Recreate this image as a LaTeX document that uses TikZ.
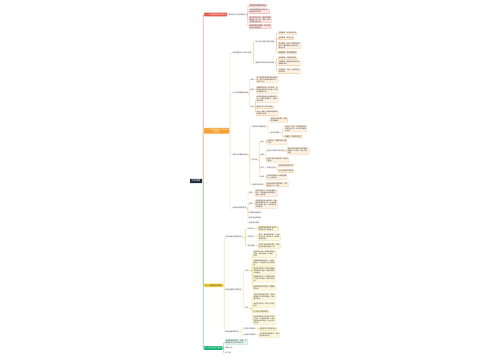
\documentclass[tikz,border=0pt]{standalone}
\usepackage{fontspec}
\setmainfont{Noto Sans CJK SC}
\definecolor{rootc}{HTML}{1F2A37}
\definecolor{textc}{HTML}{3A3A3A}
\definecolor{redc}{HTML}{E5574B}
\definecolor{redl}{HTML}{F2A79F}
\definecolor{redf}{HTML}{FDE6E3}
\definecolor{orc}{HTML}{F5A030}
\definecolor{orl}{HTML}{F2C896}
\definecolor{orf}{HTML}{FEF2E4}
\definecolor{yec}{HTML}{F3D23C}
\definecolor{yel}{HTML}{E8D57A}
\definecolor{yef}{HTML}{FDF8DF}
\definecolor{grc}{HTML}{1FB47A}
\definecolor{grl}{HTML}{86D3B2}
\definecolor{grf}{HTML}{E2F6ED}
\tikzset{
  rootnode/.style={fill=rootc, text=white, font=\fontsize{2.2}{2.6}\selectfont, minimum width=12pt, minimum height=4.4pt, inner sep=0.6pt, rounded corners=0.4pt},
  topic/.style={anchor=west, inner sep=0.9pt, font=\fontsize{1.9}{2.3}\selectfont, rounded corners=0.4pt, align=center},
  txt/.style={anchor=west, inner sep=0.5pt, font=\fontsize{1.7}{2}\selectfont, text=textc, align=left},
  leaf/.style={anchor=west, draw, line width=0.3pt, inner sep=0.6pt, font=\fontsize{1.6}{1.95}\selectfont, text=textc, align=left, rounded corners=0.4pt},
  leafR/.style={leaf, fill=redf, draw=redl},
  leafO/.style={leaf, fill=orf, draw=orl},
  leafY/.style={leaf, fill=yef, draw=yel},
  leafG/.style={leaf, fill=grf, draw=grl},
  link/.style={line width=0.35pt, rounded corners=1pt},
  lR/.style={link, draw=redl},
  lO/.style={link, draw=orl},
  lY/.style={link, draw=yel},
  lG/.style={link, draw=grl},
  trunk/.style={line width=0.6pt, rounded corners=1pt},
}
\newcommand\mmlink[4]{\draw[#1] (#2.east) -- ++(#4,0) |- (#3.west);}
\begin{document}
\begin{tikzpicture}[x=1pt,y=-1pt]
\fill[white] (0,0) rectangle (500,360);
\useasboundingbox (0,0) rectangle (500,360);

% root
\node[rootnode] (root) at (196,181) {项目管理};

% ---------- red branch
\node[topic, fill=redc, text=white] (r0) at (204,14.5) {一、项目管理的基本概念};
\node[txt] (r1) at (228,14.5) {项目的定义及主要特征};
\node[leafR] (r2) at (249,5.7) {项目具有明确的临时性};
\node[leafR] (r3) at (249,11.3) {项目有明确的起点和终点，\\资源和时间有限};
\node[leafR] (r4) at (249,19.5) {每个项目的产品、服务或成果\\都是独一无二的，具有一定的\\不确定性和风险};
\node[leafR] (r5) at (249,26.5) {项目需要渐进明细，逐步完善\\项目计划和目标};

% ---------- orange branch
\node[topic, fill=orc, text=white] (o0) at (204,130.7) {二、项目管理的知识领域和\\过程组};

\node[txt] (oa) at (232,53.3) {项目管理的十大知识领域};
\node[txt] (oa1) at (255,41.7) {核心知识领域与重点内容};
\node[leafO] (oa11) at (278,33.3) {范围管理：界定项目边界};
\node[leafO] (oa12) at (278,38.3) {进度管理：制定计划};
\node[leafO] (oa13) at (278,45.5) {成本管理：估算、预算和控制\\成本，确保项目在批准的预\\算内完成};
\node[leafO] (oa14) at (278,52.7) {质量管理：满足质量要求};
\node[txt] (oa2) at (255,63.3) {辅助知识领域与相关内容};
\node[leafO] (oa21) at (278,58.3) {资源管理：组建项目团队};
\node[leafO] (oa22) at (278,63.3) {沟通管理：确保项目信息及时\\准确地传递};
\node[leafO] (oa23) at (278,71.3) {风险管理：识别、分析和应对\\项目风险};

\node[txt] (ob) at (232,93.3) {五大项目管理过程组};
\node[txt] (ob1) at (250,79.7) {启动};
\node[leafO] (ob1a) at (256,79.7) {定义新项目或现有项目的新阶\\段，授权开始该项目或阶段，\\识别干系人};
\node[txt] (ob2) at (250,90) {规划};
\node[leafO] (ob2a) at (256,90) {明确项目范围，优化目标，为\\实现目标制定行动方案，形成\\项目管理计划};
\node[txt] (ob3) at (250,106.7) {执行};
\node[leafO] (ob3a) at (256,99.2) {完成项目管理计划中确定的工\\作，以满足项目要求，协调人\\员和资源};
\node[leafO] (ob3b) at (256,107.3) {管理干系人的参与程度};
\node[leafO] (ob3c) at (256,113.3) {监控：跟踪、审查和调整项目\\的进展与绩效};

\node[txt] (oc) at (232,155) {项目生命周期与组织};
\node[txt] (oc1) at (251.5,126.7) {项目生命周期类型};
\node[leafO] (oc1a) at (270,120) {预测型生命周期：范围\\在早期确定};
\node[txt] (oc1b) at (270,132.7) {适应型周期};
\node[leafO] (oc1b1) at (284.5,128.8) {迭代型：通过一系列重复的循\\环来开发产品，每次迭代都增\\加功能};
\node[leafO] (oc1b2) at (284.5,136.7) {敏捷型：快速响应变化};
\node[txt] (oc2) at (251.5,160) {各阶段};
\node[txt] (oc2a) at (260,142) {启动};
\node[leafO] (oc2a1) at (266.5,142) {开始项目，明确目标和主要\\干系人};
\node[txt] (oc2b) at (260,155) {组织};
\node[txt] (oc2b1) at (266.5,151) {组织与准备工作的内容};
\node[leafO] (oc2b11) at (287,150.8) {做好项目启动前的各项准备，\\明确分工与职责，建立沟通\\机制};
\node[leafO] (oc2b2) at (266.5,160) {制定计划并分配资源，建立项\\目团队};
\node[txt] (oc2c) at (260,168.3) {执行};
\node[txt] (oc2c1) at (266.5,168.3) {实施与监控};
\node[leafO] (oc2c11) at (278,165.7) {完成项目的全部工作};
\node[leafO] (oc2c12) at (278,171) {交付项目的阶段成果};
\node[txt] (oc2d) at (260,177.2) {结束};
\node[leafO] (oc2d1) at (266.5,177.2) {移交项目成果，总结经验教\\训，关闭项目};
\node[txt] (oc3) at (251.5,184.5) {项目阶段的关口};
\node[leafO] (oc31) at (266,184.5) {在阶段结束时审查绩效，决定\\是否进入下一阶段};

\node[txt] (od) at (232,208.3) {项目组织结构类型};
\node[txt] (od1) at (248.5,193.3) {职能};
\node[leafO] (od1a) at (255,193.3) {职能型组织中，项目经理权力\\较小，资源由职能经理控制，\\适合小型项目};
\node[txt] (od2) at (248.5,204.2) {矩阵};
\node[leafO] (od2a) at (255,204.2) {矩阵型组织分为弱矩阵、平衡\\矩阵和强矩阵三种，项目经理\\的权力随之增大，资源由双方\\共同管理};
\node[txt] (od3) at (248.5,213.3) {项目型组织结构};
\node[txt] (od4) at (248.5,218.3) {复合型组织结构};
\node[txt] (od5) at (248.5,223.3) {虚拟组织结构};

% ---------- yellow branch
\node[topic, fill=yec, text=textc] (y0) at (204,285.3) {三、项目经理的角色};
\node[txt] (ya) at (225,237.3) {项目经理应具备的能力};
\node[txt] (ya1) at (247,228.7) {技术能力};
\node[leafY] (ya1a) at (258,228.7) {掌握项目管理的专业知识，\\熟练运用工具和技术};
\node[txt] (ya2) at (247,237.3) {领导能力};
\node[leafY] (ya2a) at (258,237.3) {指导、激励和带领团队，协调\\各方关系，解决冲突，推动项\\目顺利进行};
\node[txt] (ya3) at (247,245.8) {商业管理};
\node[leafY] (ya3a) at (258,245.8) {了解行业和组织的情况，使项\\目与战略目标保持一致};

\node[txt] (yb) at (225,290) {项目经理的主要职责};
\node[txt] (yb1) at (244.5,270.8) {对内};
\node[leafY] (yb11) at (253,254.2) {制定项目计划，明确项目目标、\\范围、进度和成本，并组织\\实施};
\node[leafY] (yb12) at (253,263.3) {组建和管理项目团队，合理分\\配任务，激发团队成员的积极\\性};
\node[leafY] (yb13) at (253,270.8) {监控项目进展，及时发现偏差\\并采取纠正措施，确保项目按\\计划推进};
\node[leafY] (yb14) at (253,278.8) {管理项目风险，识别潜在问题\\，制定应对预案，降低不利影\\响};
\node[leafY] (yb15) at (253,287.7) {组织项目验收与总结，整理项\\目文档};
\node[txt] (yb2) at (244.5,308.3) {对外};
\node[leafY] (yb21) at (253,296.7) {与客户保持良好沟通，了解并\\管理客户的需求和期望，争取\\客户满意};
\node[leafY] (yb22) at (253,305) {协调与供应商、合作方之间的\\关系};
\node[leafY] (yb23) at (253,311.7) {向上级汇报项目情况};
\node[leafY] (yb24) at (253,320) {代表项目团队与外部干系人进\\行谈判，处理合同事务，维护\\项目和组织的利益，树立良好\\的形象};

\node[txt] (yc) at (225,331.7) {项目经理的影响力};
\node[txt] (yc1) at (243,329) {在项目中的影响};
\node[leafY] (yc1a) at (259,329) {领导团队实现项目目标};
\node[txt] (yc2) at (243,335) {在组织中的影响};
\node[leafY] (yc2a) at (259,335) {与其他项目经理互动，争取\\更多资源支持};

% ---------- green branch
\node[topic, fill=grc, text=white] (g0) at (203.5,348) {四、总结与复习要点};
\node[leafG] (g1) at (225,342) {项目管理是将知识、技能、工\\具和技术应用于项目活动};
\node[txt] (g2) at (225,348.3) {案例分析};
\node[txt] (g3) at (225,353.3) {练习题};

% ---------- trunk connectors
\draw[trunk, draw=redl] (root.east) -- ++(1,0) |- (r0.west);
\draw[trunk, draw=orl] (root.east) -- ++(1,0) |- (o0.west);
\draw[trunk, draw=yel] (root.east) -- ++(1,0) |- (y0.west);
\draw[trunk, draw=grl] (root.east) -- ++(1,0) |- (g0.west);

% ---------- red connectors
\mmlink{lR}{r0}{r1}{0.5}
\foreach \c in {r2,r3,r4,r5} {\mmlink{lR}{r1}{\c}{1.5}}

% ---------- orange connectors
\foreach \c in {oa,ob,oc,od} {\mmlink{lO}{o0}{\c}{1}}
\foreach \c in {oa1,oa2} {\mmlink{lO}{oa}{\c}{1.3}}
\foreach \c in {oa11,oa12,oa13,oa14} {\mmlink{lO}{oa1}{\c}{1.5}}
\foreach \c in {oa21,oa22,oa23} {\mmlink{lO}{oa2}{\c}{1.5}}
\foreach \c in {ob1,ob2,ob3} {\mmlink{lO}{ob}{\c}{0.8}}
\mmlink{lO}{ob1}{ob1a}{0.8}
\mmlink{lO}{ob2}{ob2a}{0.8}
\foreach \c in {ob3a,ob3b,ob3c} {\mmlink{lO}{ob3}{\c}{0.8}}
\foreach \c in {oc1,oc2,oc3} {\mmlink{lO}{oc}{\c}{1.2}}
\foreach \c in {oc1a,oc1b} {\mmlink{lO}{oc1}{\c}{1.5}}
\foreach \c in {oc1b1,oc1b2} {\mmlink{lO}{oc1b}{\c}{2.5}}
\foreach \c in {oc2a,oc2b,oc2c,oc2d} {\mmlink{lO}{oc2}{\c}{1.2}}
\mmlink{lO}{oc2a}{oc2a1}{1}
\foreach \c in {oc2b1,oc2b2} {\mmlink{lO}{oc2b}{\c}{1}}
\mmlink{lO}{oc2b1}{oc2b11}{1}
\mmlink{lO}{oc2c}{oc2c1}{1}
\foreach \c in {oc2c11,oc2c12} {\mmlink{lO}{oc2c1}{\c}{1}}
\mmlink{lO}{oc2d}{oc2d1}{1}
\mmlink{lO}{oc3}{oc31}{0.8}
\foreach \c in {od1,od2,od3,od4,od5} {\mmlink{lO}{od}{\c}{1}}
\mmlink{lO}{od1}{od1a}{1}
\mmlink{lO}{od2}{od2a}{1}

% ---------- yellow connectors
\foreach \c in {ya,yb,yc} {\mmlink{lY}{y0}{\c}{0.8}}
\foreach \c in {ya1,ya2,ya3} {\mmlink{lY}{ya}{\c}{2}}
\mmlink{lY}{ya1}{ya1a}{1.5}
\mmlink{lY}{ya2}{ya2a}{1.5}
\mmlink{lY}{ya3}{ya3a}{1.5}
\foreach \c in {yb1,yb2} {\mmlink{lY}{yb}{\c}{1.5}}
\foreach \c in {yb11,yb12,yb13,yb14,yb15} {\mmlink{lY}{yb1}{\c}{2.8}}
\foreach \c in {yb21,yb22,yb23,yb24} {\mmlink{lY}{yb2}{\c}{2.8}}
\foreach \c in {yc1,yc2} {\mmlink{lY}{yc}{\c}{1.5}}
\mmlink{lY}{yc1}{yc1a}{1.5}
\mmlink{lY}{yc2}{yc2a}{1.5}

% ---------- green connectors
\foreach \c in {g1,g2,g3} {\mmlink{lG}{g0}{\c}{0.8}}
\end{tikzpicture}
\end{document}
